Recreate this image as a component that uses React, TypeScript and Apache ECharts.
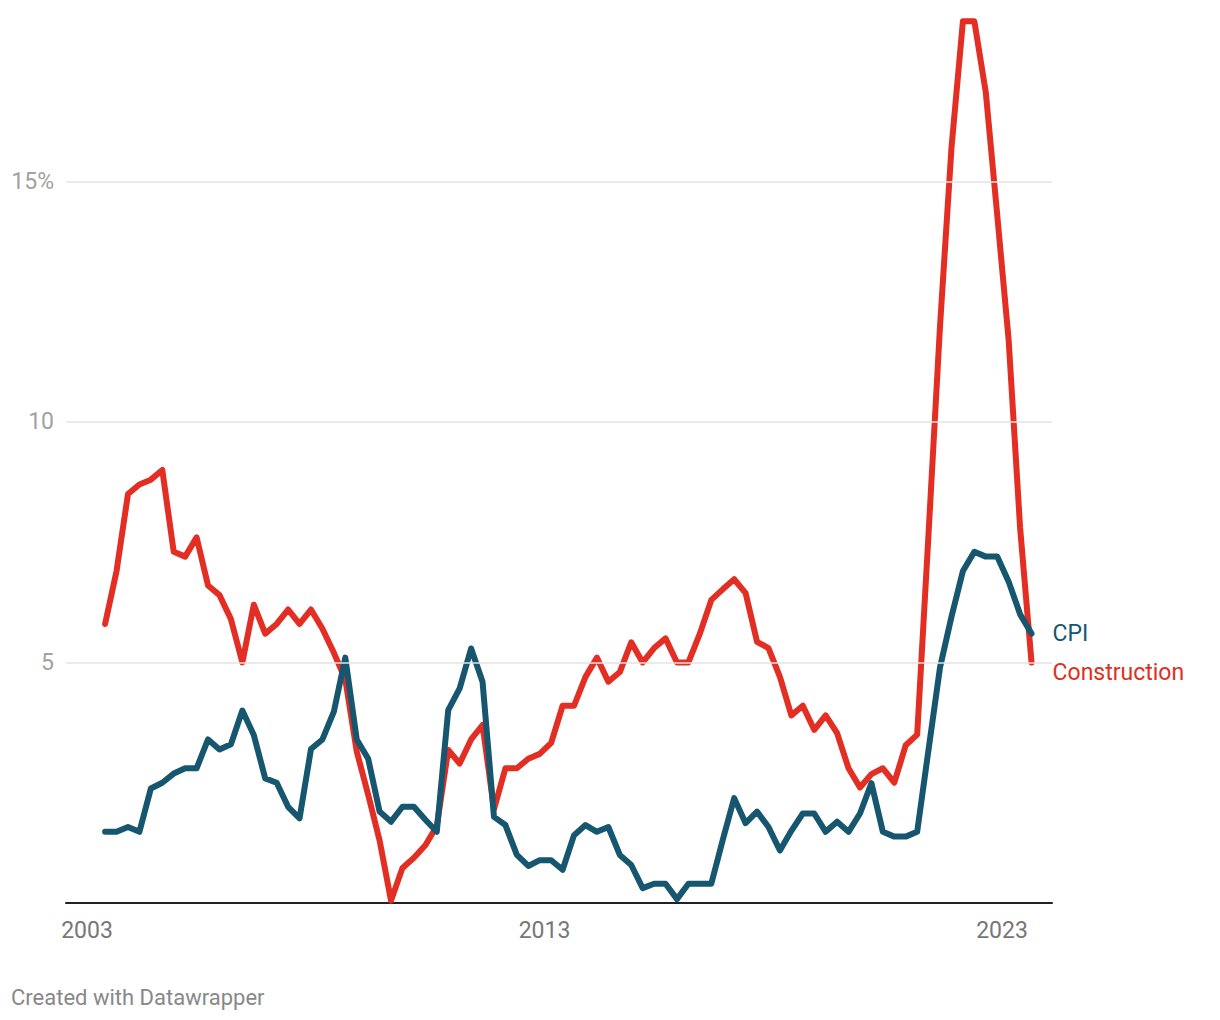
import React, { useEffect, useRef } from "react";
import * as echarts from "echarts";

// Quarterly observations, first one in spring 2003
const firstObsYear = 2003 + 4.75 / 12;
const obsStep = 0.25;

const construction = [
  5.8, 6.9, 8.5, 8.7, 8.8, 9.0, 7.3, 7.2, 7.6, 6.6,
  6.4, 5.9, 5.0, 6.2, 5.6, 5.8, 6.1, 5.8, 6.1, 5.7,
  5.2, 4.65, 3.15, 2.25, 1.3, 0.05, 0.73, 0.94, 1.2, 1.6,
  3.18, 2.9, 3.4, 3.7, 1.95, 2.8, 2.8, 3.0, 3.1, 3.33,
  4.1, 4.1, 4.7, 5.1, 4.6, 4.8, 5.42, 5.0, 5.3, 5.5,
  5.0, 5.0, 5.6, 6.3, 6.52, 6.73, 6.44, 5.43, 5.3, 4.7,
  3.9, 4.1, 3.6, 3.9, 3.53, 2.8, 2.4, 2.68, 2.8, 2.5,
  3.28, 3.5, 7.7, 12.0, 15.7, 18.33, 18.33, 16.85, 14.3, 11.7,
  7.8, 5.0,
];

const cpi = [
  1.48, 1.48, 1.58, 1.48, 2.38, 2.5, 2.69, 2.8, 2.8, 3.4,
  3.19, 3.3, 4.0, 3.49, 2.59, 2.5, 2.0, 1.76, 3.2, 3.4,
  3.98, 5.1, 3.4, 3.0, 1.9, 1.69, 2.0, 2.0, 1.73, 1.48,
  4.01, 4.46, 5.29, 4.6, 1.79, 1.62, 1.0, 0.77, 0.89, 0.89,
  0.69, 1.41, 1.62, 1.48, 1.58, 1.0, 0.79, 0.31, 0.4, 0.4,
  0.08, 0.4, 0.4, 0.4, 1.31, 2.18, 1.66, 1.9, 1.58, 1.09,
  1.5, 1.86, 1.86, 1.48, 1.69, 1.48, 1.86, 2.49, 1.48, 1.38,
  1.38, 1.48, 3.2, 4.9, 5.95, 6.9, 7.3, 7.2, 7.2, 6.68,
  6.0, 5.6,
];

const xTickYears = [2003, 2013, 2023];
const yTicks = [5, 10, 15];
const seriesNames = ["Construction", "CPI"];
const credit = "Created with Datawrapper";

const RED = "#e22e23";
const BLUE = "#17566f";
const FONT = "Roboto";

export default function App() {
  const ref = useRef<HTMLDivElement>(null);

  useEffect(() => {
    if (!ref.current) return;
    const chart = echarts.init(ref.current, null, { renderer: "svg" });
    const years = cpi.map((_, i) => firstObsYear + i * obsStep);

    chart.setOption({
      animation: false,
      backgroundColor: "#ffffff",
      textStyle: { fontFamily: FONT },
      grid: { left: 66, right: 168, top: 0, bottom: 117, containLabel: false },
      xAxis: {
        type: "value",
        min: 2002.541,
        max: 2024.093,
        axisLine: { show: true, lineStyle: { color: "#222222", width: 2 } },
        axisTick: { show: false, customValues: xTickYears },
        splitLine: { show: false },
        axisLabel: {
          customValues: xTickYears,
          formatter: (v: number) => String(Math.round(v)),
          color: "#777777",
          fontSize: 23,
          fontFamily: FONT,
          margin: 16,
        },
      },
      yAxis: {
        type: "value",
        min: 0,
        max: 18.77,
        interval: 5,
        axisLine: { show: false },
        axisTick: { show: false },
        splitLine: { show: false },
        axisLabel: {
          color: "#a2a2a2",
          fontSize: 23,
          fontFamily: FONT,
          margin: 12,
          showMaxLabel: false,
          formatter: (v: number) => {
            if (!yTicks.includes(v)) return "";
            return v === yTicks[yTicks.length - 1] ? v + "%" : String(v);
          },
        },
      },
      series: [
        {
          name: "grid",
          type: "line",
          data: [],
          silent: true,
          z: 1,
          markLine: {
            silent: true,
            symbol: ["none", "none"],
            label: { show: false },
            lineStyle: { color: "#e3e3e3", width: 1.5, type: "solid" },
            data: yTicks.map((v) => ({ yAxis: v })),
          },
        },
        {
          name: seriesNames[0],
          type: "line",
          data: years.map((x, i) => [x, construction[i]]),
          showSymbol: false,
          symbol: "none",
          lineStyle: { color: RED, width: 6, cap: "round", join: "round" },
          itemStyle: { color: RED },
          endLabel: {
            show: true,
            formatter: "{a}",
            color: RED,
            fontSize: 23,
            fontFamily: FONT,
            distance: 21,
            offset: [0, 10],
          },
          z: 2,
        },
        {
          name: seriesNames[1],
          type: "line",
          data: years.map((x, i) => [x, cpi[i]]),
          showSymbol: false,
          symbol: "none",
          lineStyle: { color: BLUE, width: 6, cap: "round", join: "round" },
          itemStyle: { color: BLUE },
          endLabel: {
            show: true,
            formatter: "{a}",
            color: BLUE,
            fontSize: 23,
            fontFamily: FONT,
            distance: 21,
          },
          z: 3,
        },
      ],
      graphic: [
        {
          type: "text",
          left: 11,
          top: 986,
          style: {
            text: credit,
            fill: "#888888",
            fontSize: 22,
            fontFamily: FONT,
          },
        },
      ],
    });

    return () => chart.dispose();
  }, []);

  return (
    <div
      ref={ref}
      style={{ position: "absolute", left: 0, top: 0, width: 1220, height: 1020 }}
    />
  );
}
